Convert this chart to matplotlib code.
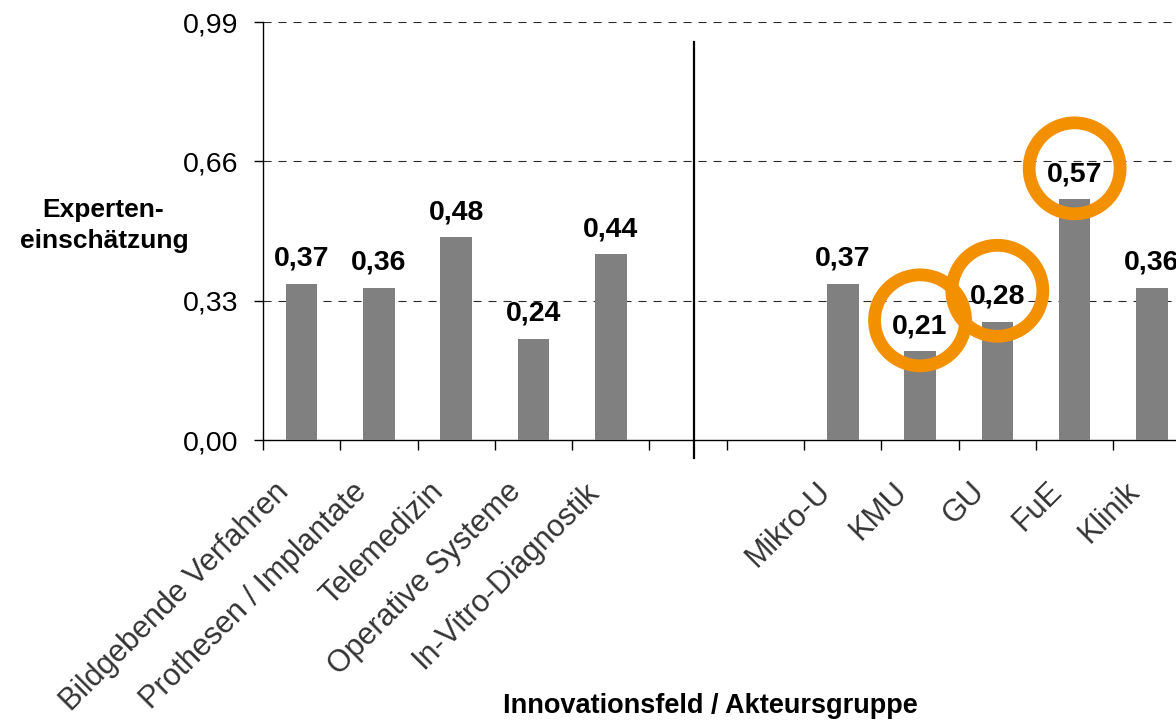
import matplotlib
matplotlib.use("Agg")
import matplotlib.pyplot as plt
from matplotlib.patches import Ellipse
from matplotlib.transforms import ScaledTranslation
import numpy as np

plt.rcParams['font.family'] = ['Liberation Sans', 'DejaVu Sans']
plt.rcParams['lines.scale_dashes'] = False

categories = ["Bildgebende Verfahren", "Prothesen / Implantate", "Telemedizin",
              "Operative Systeme", "In-Vitro-Diagnostik", "", "",
              "Mikro-U", "KMU", "GU", "FuE", "Klinik"]
values = [0.37, 0.36, 0.48, 0.24, 0.44, None, None, 0.37, 0.21, 0.28, 0.57, 0.36]
value_labels = ["0,37", "0,36", "0,48", "0,24", "0,44", "", "", "0,37", "0,21", "0,28", "0,57", "0,36"]
highlighted = ["KMU", "GU", "FuE"]
yticks = [0.0, 0.33, 0.66, 0.99]
ytick_labels = ["0,00", "0,33", "0,66", "0,99"]

W, H = 1176, 721
fig = plt.figure(figsize=(W / 100, H / 100), dpi=100)
left, right, top, bottom = 263, 1190.6, 22, 440
ax = fig.add_axes([left / W, (H - bottom) / H, (right - left) / W, (bottom - top) / H])

x = np.arange(len(categories))
bar_x = [xi for xi, v in zip(x, values) if v is not None]
bar_v = [v for v in values if v is not None]
ax.bar(bar_x, bar_v, width=0.41, color="#808080", zorder=3)

ax.set_xlim(-0.5, len(categories) - 0.5)
ax.set_ylim(0, 0.99)

for s in ["top", "right"]:
    ax.spines[s].set_visible(False)
ax.spines["left"].set_linewidth(1.0)
ax.spines["bottom"].set_linewidth(1.0)

ax.set_yticks(yticks)
ax.set_yticklabels(ytick_labels, fontsize=20.5)
ax.tick_params(axis="y", direction="out", length=6.5, width=1, pad=11)
for yv in yticks[1:]:
    ax.axhline(yv, color="#2a2a2a", linestyle=(0, (5.8, 5.0)), linewidth=0.8, zorder=1)

ax.set_xticks(np.arange(len(categories) + 1) - 0.5)
ax.set_xticklabels([])
ax.tick_params(axis="x", which="major", direction="out", length=7, width=1)
ax.set_xticks(x, minor=True)
ax.set_xticklabels(categories, minor=True, rotation=45, ha="right", va="center",
                   rotation_mode="anchor", fontsize=22, color="#333333")
ax.tick_params(axis="x", which="minor", length=0, pad=34)
for lab in ax.get_xticklabels(minor=True):
    lab.set_transform(lab.get_transform() + ScaledTranslation(-17 / 100, 0, fig.dpi_scale_trans))

for xi, v, lab in zip(x, values, value_labels):
    if v is None:
        continue
    ax.annotate(lab, (xi, v), xytext=(0, 13), textcoords="offset points",
                ha="center", va="baseline", fontsize=20.5, fontweight="bold", zorder=5)
    if categories[xi] in highlighted:
        px, py = ax.transData.transform((xi, v))
        cx_d, cy_d = ax.transData.inverted().transform((px, py + 31))
        rx = 45.5 / ((right - left) / len(categories))
        ry = 45.5 / ((bottom - top) / 0.99)
        ax.add_patch(Ellipse((cx_d, cy_d), 2 * rx, 2 * ry, fill=False,
                             edgecolor="#F39000", linewidth=9.2, zorder=6,
                             clip_on=False))

# vertical separator line
ax.plot([5.07, 5.07], [-0.042, 0.943], color="black", linewidth=1.6, clip_on=False, zorder=4)

fig.text(103 / W, 1 - 217 / H, "Experten-", ha="center", va="baseline",
         fontsize=19, fontweight="bold")
fig.text(104 / W, 1 - 248 / H, "einschätzung", ha="center", va="baseline",
         fontsize=19, fontweight="bold")
fig.text(710 / W, 1 - 713 / H, "Innovationsfeld / Akteursgruppe", ha="center",
         va="baseline", fontsize=19.5, fontweight="bold")

fig.savefig("out.png", dpi=100)
